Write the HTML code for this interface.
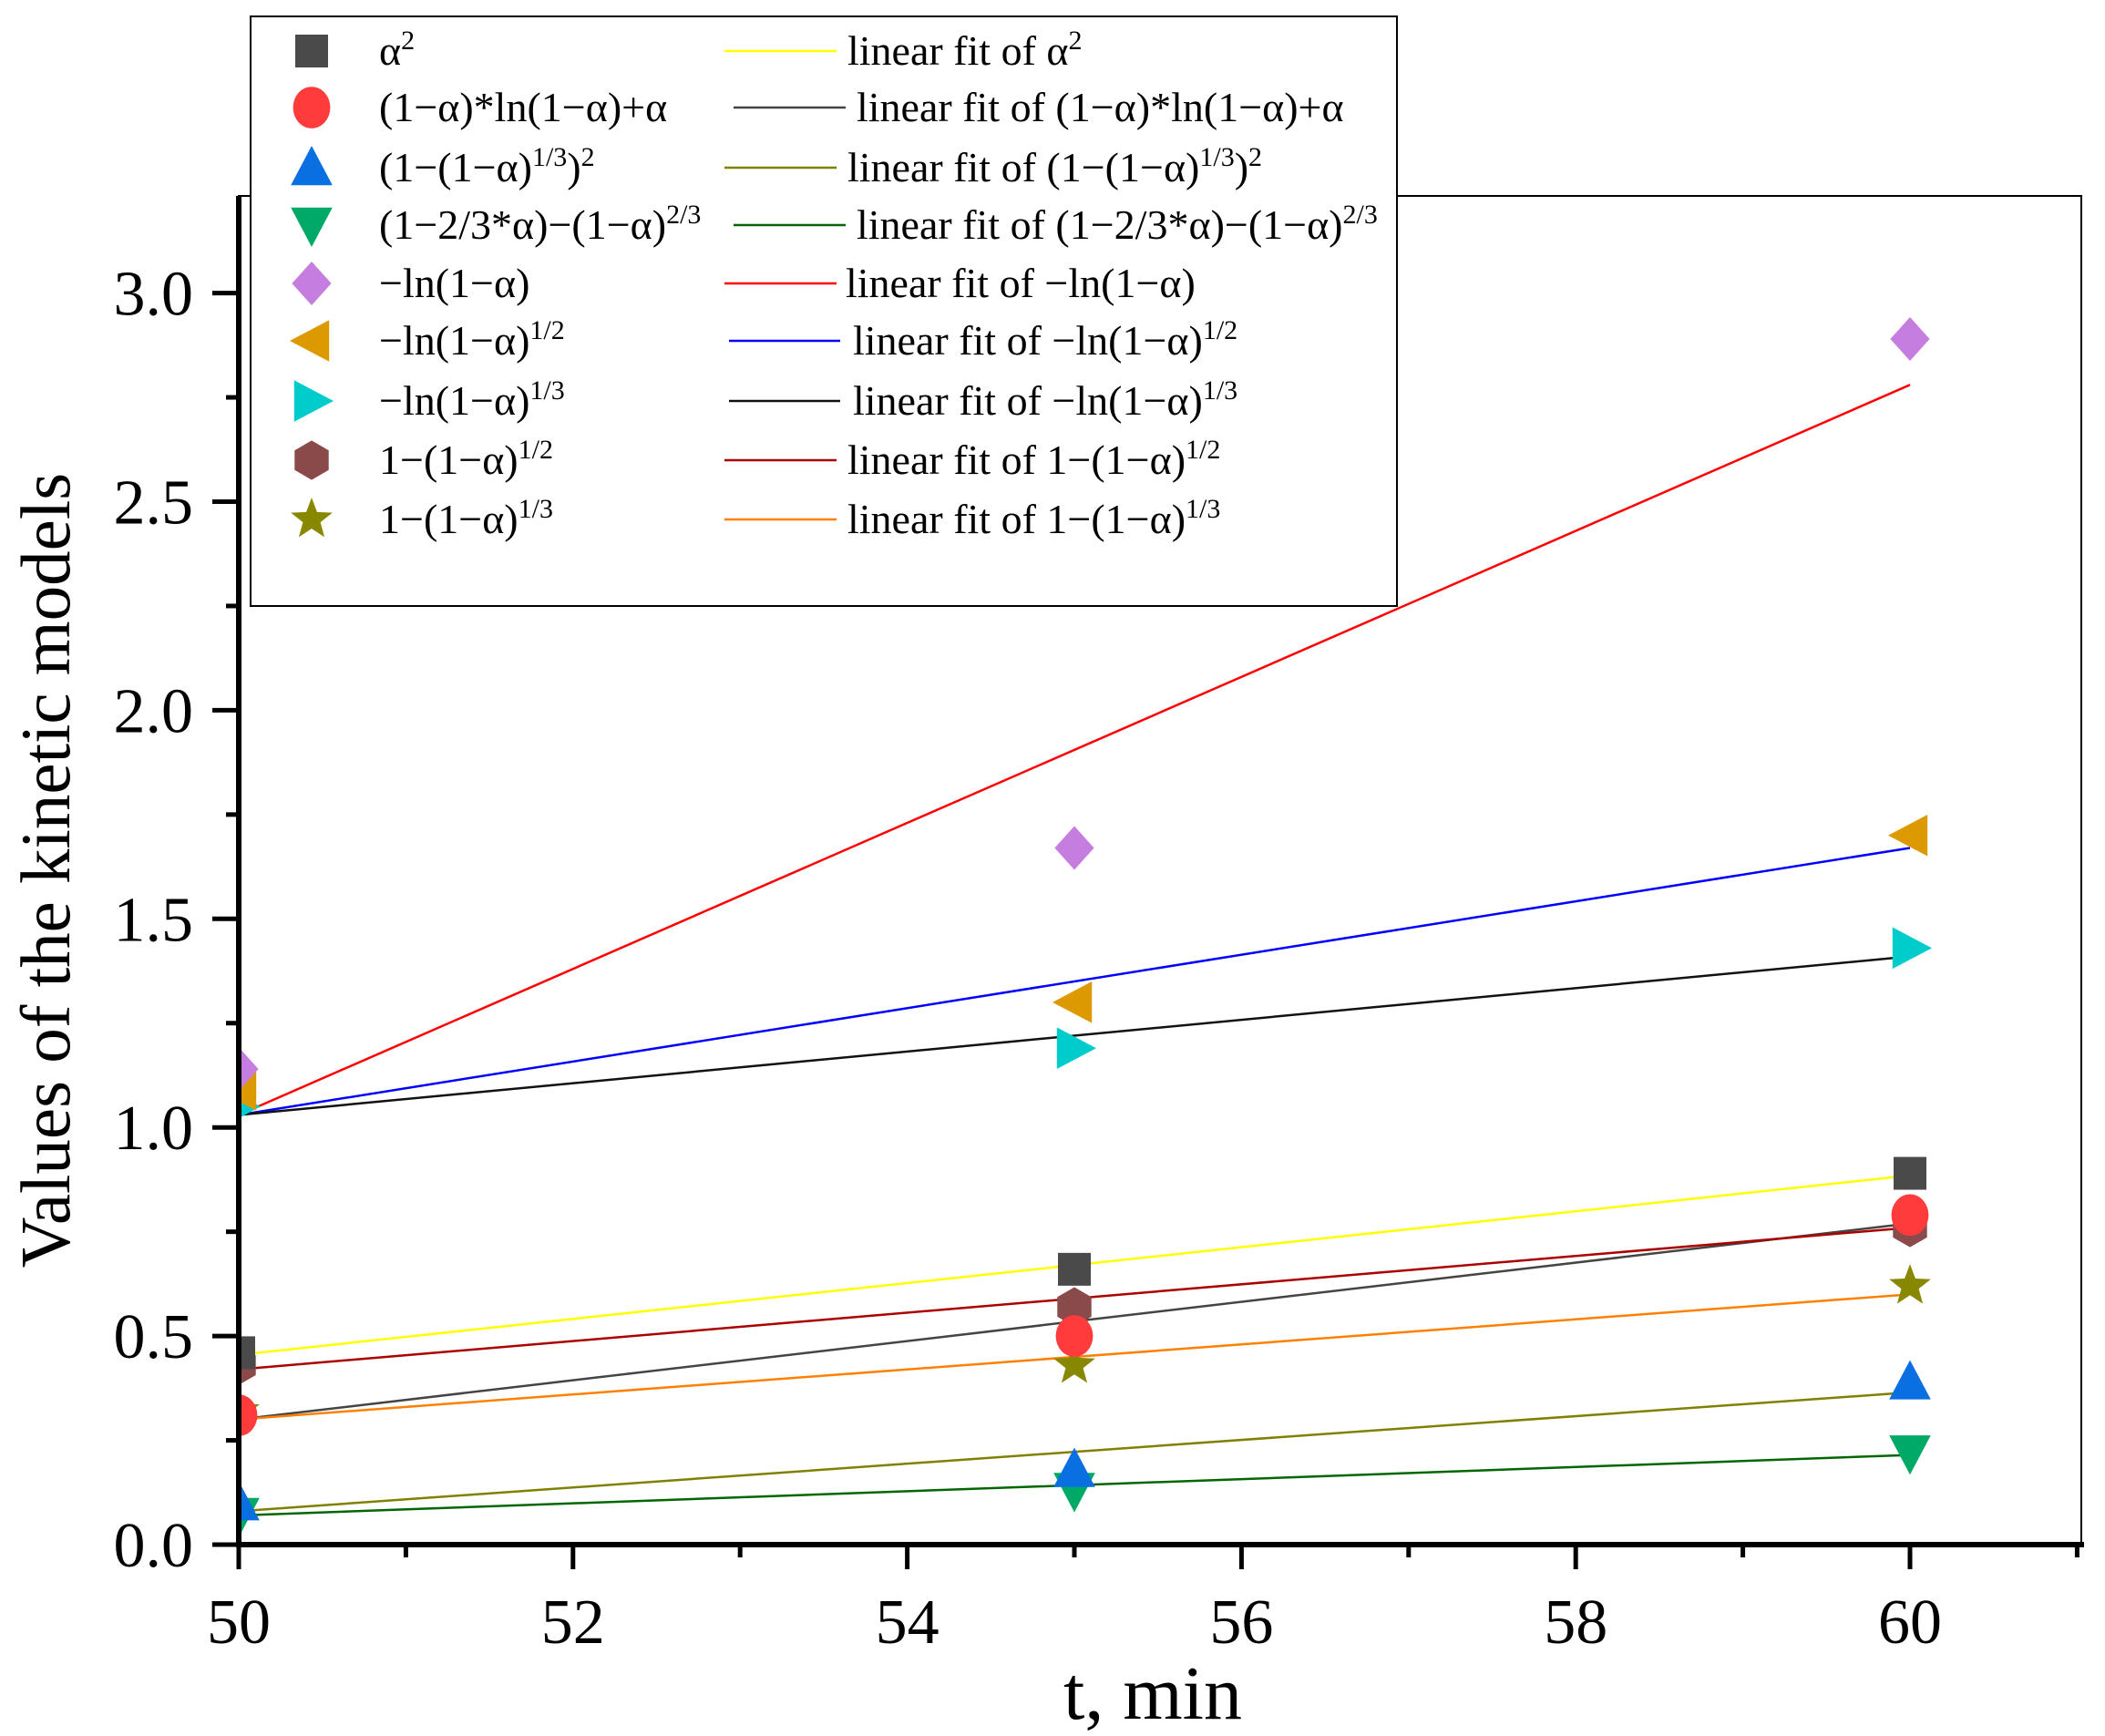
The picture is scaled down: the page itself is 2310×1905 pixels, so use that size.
<!DOCTYPE html>
<html><head><meta charset="utf-8">
<style>
html,body{margin:0;padding:0;background:#fff;}
svg{display:block;font-family:"Liberation Serif","DejaVu Serif",serif;}
</style></head>
<body>
<svg id="chart" width="2310" height="1905" viewBox="0 0 2310 1905" xmlns="http://www.w3.org/2000/svg">
<rect width="2310" height="1905" fill="#fff"/>
<g id="plot"></g>
<text x="0" y="0" font-size="77" text-anchor="middle" transform="translate(76,955) rotate(-90)">Values of the kinetic models</text>
<text x="1265" y="1886" font-size="84" text-anchor="middle">t, min</text>
<g id="legend"></g>
</svg>
<script>
const times = [50, 55, 60];
const seriesNames = ["alpha2","ln-mix","jander","ginstling","neg-ln","avrami-2","avrami-3","contract-2","contract-3"];
const alpha2 = [0.46, 0.66, 0.89];
const lnMix = [0.31, 0.50, 0.79];
const jander = [0.10, 0.18, 0.39];
const ginstling = [0.07, 0.13, 0.22];
const negLn = [1.14, 1.67, 2.89];
const avrami2 = [1.09, 1.30, 1.70];
const avrami3 = [1.05, 1.19, 1.43];
const contract2 = [0.43, 0.57, 0.76];
const contract3 = [0.32, 0.43, 0.62];
const fitStart = [0.455, 0.30, 0.08, 0.07, 1.03, 1.03, 1.03, 0.42, 0.30];
const fitEnd = [0.885, 0.77, 0.365, 0.215, 2.78, 1.67, 1.41, 0.76, 0.60];
const xTicks = [50, 52, 54, 56, 58, 60];
const yTicks = [0.0, 0.5, 1.0, 1.5, 2.0, 2.5, 3.0];

const allValues = [alpha2, lnMix, jander, ginstling, negLn, avrami2, avrami3, contract2, contract3];
const markerColors = ["#4a4a4a","#ff3b3b","#0a6fe0","#00aa66","#c57ee0","#dd9900","#00cccc","#8a4a4a","#888800"];
const markerShapes = ["square","circle","up","down","diamond","left","right","hex","star"];
const fitColors = ["#ffff00","#444444","#808000","#006600","#ff0000","#0000ff","#111111","#aa0000","#ff8000"];

const NS = "http://www.w3.org/2000/svg";
const X0 = 262, XS = 183.4, Y0 = 1695, YS = 457.8;
function xs(v){ return X0 + (v - 50) * XS; }
function ys(v){ return Y0 - v * YS; }
function mk(tag, attrs, parent){
  const e = document.createElementNS(NS, tag);
  for (const k in attrs) e.setAttribute(k, attrs[k]);
  parent.appendChild(e);
  return e;
}
const plot = document.getElementById("plot");

const frame = mk("rect", {x:262, y:215, width:2022, height:1480, fill:"none", stroke:"#000", "stroke-width":2}, plot);


const yAxis = mk("line", {x1:262, y1:215, x2:262, y2:1698, stroke:"#000", "stroke-width":6}, plot);


const xAxis = mk("line", {x1:259, y1:1695, x2:2287, y2:1695, stroke:"#000", "stroke-width":6}, plot);



for (let v = 50; v <= 61; v++) {
  const major = v % 2 === 0;
  const t = mk("line", {x1:xs(v), y1:1695, x2:xs(v), y2:1695 + (major ? 27 : 14), stroke:"#000", "stroke-width":5}, plot);
  
  
}
xTicks.forEach(v => {
  const t = mk("text", {x:xs(v), y:1803, "font-size":70, "text-anchor":"middle"}, plot);
  t.textContent = String(v);
  
  
});
for (let i = 0; i <= 12; i++) {
  const v = i * 0.25;
  const major = i % 2 === 0;
  const t = mk("line", {x1:262 - (major ? 29 : 14), y1:ys(v), x2:262, y2:ys(v), stroke:"#000", "stroke-width":5}, plot);
  
  
}
yTicks.forEach(v => {
  const t = mk("text", {x:212, y:ys(v) + 24, "font-size":70, "text-anchor":"end"}, plot);
  t.textContent = v.toFixed(1);
  
  
});

function shape(type, cx, cy, r, color, parent){
  let e;
  if (type === "square") e = mk("rect", {x:cx-r*0.75, y:cy-r*0.75, width:r*1.5, height:r*1.5, fill:color}, parent);
  else if (type === "circle") e = mk("ellipse", {cx:cx, cy:cy, rx:r*0.85, ry:r*0.95, fill:color}, parent);
  else {
    let pts;
    if (type === "up") pts = [[0,-r],[r*0.95,r*0.8],[-r*0.95,r*0.8]];
    else if (type === "down") pts = [[0,r],[r*0.95,-r*0.8],[-r*0.95,-r*0.8]];
    else if (type === "left") pts = [[-r,0],[r*0.8,-r*0.95],[r*0.8,r*0.95]];
    else if (type === "right") pts = [[r,0],[-r*0.8,-r*0.95],[-r*0.8,r*0.95]];
    else if (type === "diamond") pts = [[0,-r],[r*0.9,0],[0,r],[-r*0.9,0]];
    else if (type === "hex") { pts = []; for (let k=0;k<6;k++){ const a=Math.PI/6+k*Math.PI/3; pts.push([r*0.9*Math.cos(a), r*0.9*Math.sin(a)]); } }
    else { pts = []; for (let k=0;k<10;k++){ const a=-Math.PI/2+k*Math.PI/5; const rr = k%2 ? r*0.42 : r; pts.push([rr*Math.cos(a), rr*Math.sin(a)]); } }
    e = mk("polygon", {points: pts.map(p => (cx+p[0])+","+(cy+p[1])).join(" "), fill:color}, parent);
  }
  return e;
}

allValues.forEach((vals, i) => {
  const l = mk("line", {x1:xs(times[0]), y1:ys(fitStart[i]), x2:xs(times[2]), y2:ys(fitEnd[i]), stroke:fitColors[i], "stroke-width":2.5}, plot);
  
  
});
for (let i = allValues.length - 1; i >= 0; i--) {
  allValues[i].forEach((v, j) => {
    const m = shape(markerShapes[i], xs(times[j]), ys(v), 24, markerColors[i], plot);
    
    
  });
}
const cover = mk("rect", {x:225, y:1000, width:34, height:698, fill:"#fff"}, plot);


for (let i = 0; i <= 12; i++) {
  const v = i * 0.25; const major = i % 2 === 0;
  if (ys(v) < 1000) continue;
  const t = mk("line", {x1:262 - (major ? 29 : 14), y1:ys(v), x2:262, y2:ys(v), stroke:"#000", "stroke-width":5}, plot);
  
  
}
const yAxis2 = mk("line", {x1:262, y1:1000, x2:262, y2:1698, stroke:"#000", "stroke-width":6}, plot);



const legend = document.getElementById("legend");
const box = mk("rect", {x:275, y:18, width:1258, height:647, fill:"#fff", stroke:"#000", "stroke-width":2}, legend);


const labels = [
  [["α",""],["2","sup"]],
  [["(1−α)*ln(1−α)+α",""]],
  [["(1−(1−α)",""],["1/3","sup"],[")",""],["2","sup"]],
  [["(1−2/3*α)−(1−α)",""],["2/3","sup"]],
  [["−ln(1−α)",""]],
  [["−ln(1−α)",""],["1/2","sup"]],
  [["−ln(1−α)",""],["1/3","sup"]],
  [["1−(1−α)",""],["1/2","sup"]],
  [["1−(1−α)",""],["1/3","sup"]]
];
const rowY = [56,118,184,247,311,374,440,505,570];
const fitTextX = [930,940,930,940,928,936,936,930,930];
const fitLineX = [[795,918],[805,928],[795,918],[805,928],[795,918],[800,922],[800,922],[795,918],[795,918]];
function addText(parts, x, y, prefix, parent){
  const t = mk("text", {x:x, y:y + 15, "font-size":46}, parent);
  if (prefix) { const s = document.createElementNS(NS, "tspan"); s.textContent = prefix; t.appendChild(s); }
  parts.forEach(p => {
    const s = document.createElementNS(NS, "tspan");
    s.textContent = p[0];
    if (p[1] === "sup") { s.setAttribute("font-size", "30"); s.setAttribute("dy", "-17"); }
    else if (t.childNodes.length && t.lastChild.getAttribute && t.lastChild.getAttribute("dy") === "-17") { s.setAttribute("dy", "17"); }
    t.appendChild(s);
  });
  return t;
}
labels.forEach((parts, i) => {
  const y = rowY[i];
  const m = shape(markerShapes[i], 342, y, 24, markerColors[i], legend);
  
  
  const t = addText(parts, 416, y, "", legend);
  
  
  const l = mk("line", {x1:fitLineX[i][0], y1:y, x2:fitLineX[i][1], y2:y, stroke:fitColors[i], "stroke-width":2.5}, legend);
  
  
  const f = addText(parts, fitTextX[i], y, "linear fit of ", legend);
  
  
});
</script>
</body></html>
